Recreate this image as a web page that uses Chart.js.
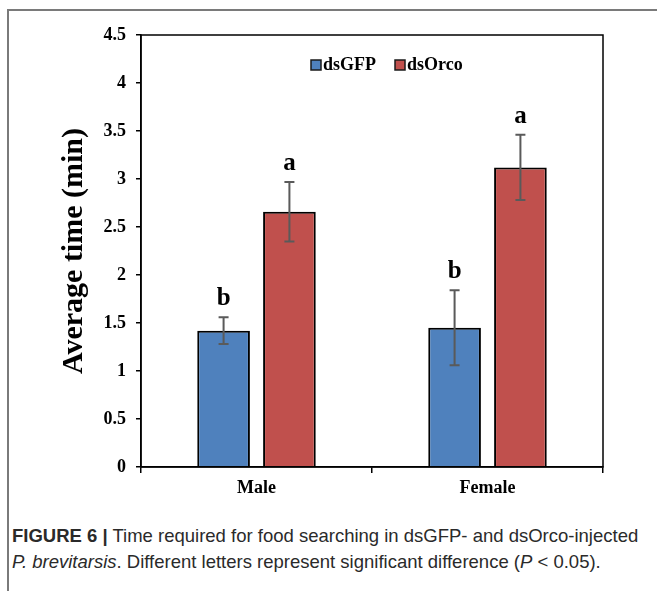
<!DOCTYPE html>
<html>
<head>
<meta charset="utf-8">
<script src="https://cdn.jsdelivr.net/npm/chart.js@4"></script>
<style>
  body { margin: 0; background: #fff; }
  #wrap { position: relative; width: 657px; height: 591px; overflow: hidden; }
  #frame { position: absolute; left: 7px; top: 9px; width: 700px; height: 700px;
    border-left: 2px solid #7a7a7a; border-top: 2px solid #7a7a7a; }
  #chart { position: absolute; left: 0; top: 0; }
  #caption { position: absolute; left: 12px; top: 523px; font-family: "Liberation Sans", Arial, sans-serif;
    font-size: 18.5px; line-height: 26px; color: #2a2a2a; white-space: nowrap; }
</style>
</head>
<body>
<div id="wrap">
  <div id="frame"></div>
  <canvas id="chart" width="657" height="510"></canvas>
  <div id="caption"><b>FIGURE 6 |</b> Time required for food searching in dsGFP- and dsOrco-injected<br><i>P. brevitarsis</i>. Different letters represent significant difference (<i>P</i> &lt; 0.05).</div>
</div>
<script>
const categories = ["Male", "Female"];
const seriesNames = ["dsGFP", "dsOrco"];
const gfpValues = [1.42, 1.45];
const orcoValues = [2.66, 3.12];
const gfpErrors = [0.14, 0.39];
const orcoErrors = [0.31, 0.34];
const gfpLetters = ["b", "b"];
const orcoLetters = ["a", "a"];
const yTicks = [0, 0.5, 1, 1.5, 2, 2.5, 3, 3.5, 4, 4.5];

const blue = "#4F81BD";
const red = "#C0504D";
const serif = "'Liberation Serif', 'Times New Roman', serif";

// error bars + significance letters
const errorBars = {
  id: "errorBars",
  afterDatasetsDraw(chart) {
    const ctx = chart.ctx;
    const y = chart.scales.y;
    chart.data.datasets.forEach((ds, i) => {
      const meta = chart.getDatasetMeta(i);
      meta.data.forEach((bar, j) => {
        const v = ds.data[j];
        const e = ds.errors[j];
        const top = y.getPixelForValue(v + e);
        const bot = y.getPixelForValue(v - e);
        ctx.save();
        ctx.strokeStyle = "#5a5a5a";
        ctx.lineWidth = 2;
        ctx.beginPath();
        ctx.moveTo(bar.x, top); ctx.lineTo(bar.x, bot);
        ctx.moveTo(bar.x - 5, top); ctx.lineTo(bar.x + 5, top);
        ctx.moveTo(bar.x - 5, bot); ctx.lineTo(bar.x + 5, bot);
        ctx.stroke();
        ctx.fillStyle = "#000";
        ctx.font = "bold 25px " + serif;
        ctx.textAlign = "center";
        ctx.textBaseline = "alphabetic";
        ctx.fillText(ds.letters[j], bar.x, top - 12);
        ctx.restore();
      });
    });
  }
};

// box around the plot and the legend inside it
const plotBox = {
  id: "plotBox",
  afterDraw(chart) {
    const ctx = chart.ctx;
    const a = chart.chartArea;
    ctx.save();
    ctx.strokeStyle = "#000";
    ctx.lineWidth = 1.5;
    ctx.strokeRect(a.left, a.top, a.right - a.left, a.bottom - a.top);

    ctx.font = "bold 18px " + serif;
    ctx.textBaseline = "middle";
    let x = (a.left + a.right) / 2 - 61;
    const ly = a.top + 30;
    chart.data.datasets.forEach((ds) => {
      ctx.fillStyle = ds.backgroundColor;
      ctx.fillRect(x, ly - 5, 10, 10);
      ctx.strokeStyle = "#1a1a1a";
      ctx.lineWidth = 1.5;
      ctx.strokeRect(x, ly - 5, 10, 10);
      ctx.fillStyle = "#000";
      ctx.textAlign = "left";
      ctx.fillText(ds.label, x + 12, ly);
      x += 12 + ctx.measureText(ds.label).width + 19;
    });
    ctx.restore();
  }
};

new Chart(document.getElementById("chart"), {
  type: "bar",
  data: {
    labels: categories,
    datasets: [
      { label: seriesNames[0], data: gfpValues, errors: gfpErrors, letters: gfpLetters,
        backgroundColor: blue, borderColor: "#000", borderWidth: 2 },
      { label: seriesNames[1], data: orcoValues, errors: orcoErrors, letters: orcoLetters,
        backgroundColor: red, borderColor: "#000", borderWidth: 2 }
    ]
  },
  options: {
    responsive: false,
    animation: false,
    events: [],
    layout: { padding: { left: 0, top: 35, right: 54, bottom: 0 } },
    datasets: { bar: { categoryPercentage: 0.57, barPercentage: 0.8 } },
    plugins: { legend: { display: false }, tooltip: { enabled: false } },
    scales: {
      x: {
        afterFit: (s) => { s.height = 43; },
        grid: { offset: true, drawOnChartArea: false, drawTicks: true, tickLength: 6, color: "#000", lineWidth: 1.5 },
        border: { display: true, color: "#000", width: 1.5 },
        ticks: { color: "#000", font: { family: serif, size: 18, weight: "bold" }, padding: 5 }
      },
      y: {
        min: 0, max: 4.5,
        afterFit: (s) => { s.width = 141; },
        afterBuildTicks: (s) => { s.ticks = yTicks.map((v) => ({ value: v })); },
        grid: { drawOnChartArea: false, drawTicks: true, tickLength: 5, color: "#000", lineWidth: 1.5 },
        border: { display: true, color: "#000", width: 1.5 },
        ticks: { color: "#000", font: { family: serif, size: 18, weight: "bold" }, padding: 10,
          callback: (v) => String(v) },
        title: { display: true, text: "Average time (min)", color: "#000",
          font: { family: serif, size: 30, weight: "bold" }, padding: { top: 56, bottom: 0 } }
      }
    }
  },
  plugins: [errorBars, plotBox]
});
</script>
</body>
</html>
